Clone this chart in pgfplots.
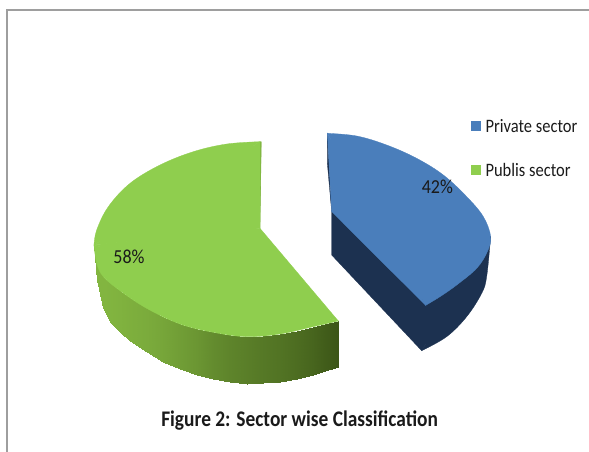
\documentclass[border=0pt]{standalone}
\usepackage{pgfplots}
\pgfplotsset{compat=1.18}
\usepackage{fontspec}
\setmainfont{Carlito}
\definecolor{gT}{HTML}{8FCE4E}
\definecolor{gE}{HTML}{7DB23E}
\definecolor{gL}{HTML}{82B540}
\definecolor{gD}{HTML}{3A5316}
\definecolor{bT}{HTML}{4A7EBB}
\definecolor{bD}{HTML}{1C3150}
\definecolor{txt}{HTML}{1A1A1A}
\begin{document}
\begin{tikzpicture}
\path (0,0) rectangle (589pt,452pt);
\begin{axis}[
  at={(0,0)}, anchor=south west,
  scale only axis, width=589pt, height=452pt,
  xmin=-240, xmax=1527, ymin=-360, ymax=996,
  y dir=reverse, hide axis,
  colormap={gside}{color(0)=(gD) color(1)=(gL)}
]
% frame
\addplot[draw=black!38,line width=1.3pt] coordinates {(-219,996) (-219,-330) (1527,-330)};
% green side
\addplot[surf,shader=interp,mesh/rows=2,point meta=explicit,point meta min=0,point meta max=1] table[meta=c] {
x y c
42 375 1.00
50 430 1.00
70 470 1.00
90 490 0.99
120 512 0.97
150 535 0.94
200 565 0.90
250 590 0.84
300 612 0.76
350 627 0.68
400 637 0.58
450 645 0.50
500 650 0.44
550 648 0.38
600 642 0.33
650 632 0.26
700 620 0.18
735 611 0.10
775 603 0.03
42 375 1.00
50 480 1.00
70 565 1.00
90 605 0.99
120 637 0.97
150 662 0.94
200 697 0.90
250 725 0.84
300 748 0.76
350 765 0.68
400 778 0.58
450 787 0.50
500 792 0.44
550 790 0.38
600 785 0.33
650 776 0.26
700 765 0.18
735 754 0.10
775 742 0.03
};
% green cut sliver and top
\addplot[fill=gE,draw=gE,line width=0.3pt] coordinates {(540,65) (544,65) (540,325)} -- cycle;
\addplot[fill=gT,draw=gT,line width=0.3pt] coordinates {(540,65) (42,375) (540,325)} -- cycle;
\addplot[fill=gT,draw=gT,line width=0.3pt] coordinates {(42,375) (775,603) (540,325)} -- cycle;
\addplot[fill=gT,draw=gT,line width=0.3pt,smooth,tension=0.6] coordinates {(540,65) (440,72) (340,95) (240,135) (150,190) (85,260) (50,330) (42,375)} -- cycle;
\addplot[fill=gT,draw=gT,line width=0.3pt,smooth,tension=0.6] coordinates {(42,375) (50,430) (70,470) (120,512) (200,565) (300,612) (400,637) (500,650) (600,642) (700,620) (775,603)} -- cycle;
\addplot[draw=gT,line width=1.5pt] coordinates {(520,78) (62,363)};
\addplot[draw=gT,line width=1.5pt] coordinates {(62,374) (530,326)};
\addplot[draw=gT,line width=1.5pt] coordinates {(62,382) (750,596)};
% blue side
\addplot[fill=bD,draw=bD,line width=0.3pt] coordinates {(742,40) (742,130) (755,275)} -- cycle;
\addplot[fill=bD,draw=bD,line width=0.3pt] coordinates {(755,275) (755,405) (1025,692) (1232,350)} -- cycle;
\addplot[fill=bD,draw=bD,line width=0.3pt,smooth,tension=0.6] coordinates {(1025,692) (1100,650) (1160,590) (1205,520) (1220,470) (1232,350)} -- cycle;
\addplot[draw=bD,line width=1.5pt] coordinates {(1037,672) (1224,364)};
% blue top
\addplot[fill=bT,draw=bT,line width=0.3pt] coordinates {(742,40) (1037,556) (755,275)} -- cycle;
\addplot[fill=bT,draw=bT,line width=0.3pt,smooth,tension=0.6] coordinates {(742,40) (830,48) (920,75) (1010,115) (1090,165) (1160,230) (1210,290) (1232,350) (1222,395) (1190,445) (1130,495) (1080,530) (1037,556)} -- cycle;
\addplot[draw=bT,line width=1.5pt] coordinates {(752,58) (1027,538)};
% legend keys
\addplot[only marks,mark=square*,mark size=4.5pt,mark options={fill=bT,draw=bT}] coordinates {(1188,18)};
\addplot[only marks,mark=square*,mark size=4.5pt,mark options={fill=gT,draw=gT}] coordinates {(1188,150)};
% labels
\node[text=txt,font=\fontsize{18}{20}\selectfont,yscale=1.1,transform shape] at (axis cs:147,410) {58\%};
\node[text=txt,font=\fontsize{18}{20}\selectfont,yscale=1.1,transform shape] at (axis cs:1072,200) {42\%};
\node[text=txt,font=\fontsize{16.5}{18}\selectfont,anchor=west,yscale=1.15,transform shape] at (axis cs:1206,18) {Private sector};
\node[text=txt,font=\fontsize{16.5}{18}\selectfont,anchor=west,yscale=1.15,transform shape] at (axis cs:1206,150) {Publis sector};
\node[text=txt,font=\bfseries\fontsize{19.4}{22}\selectfont,yscale=1.15,transform shape] at (axis cs:659,903) {Figure 2: Sector wise Classification};
\end{axis}
\end{tikzpicture}
\end{document}
